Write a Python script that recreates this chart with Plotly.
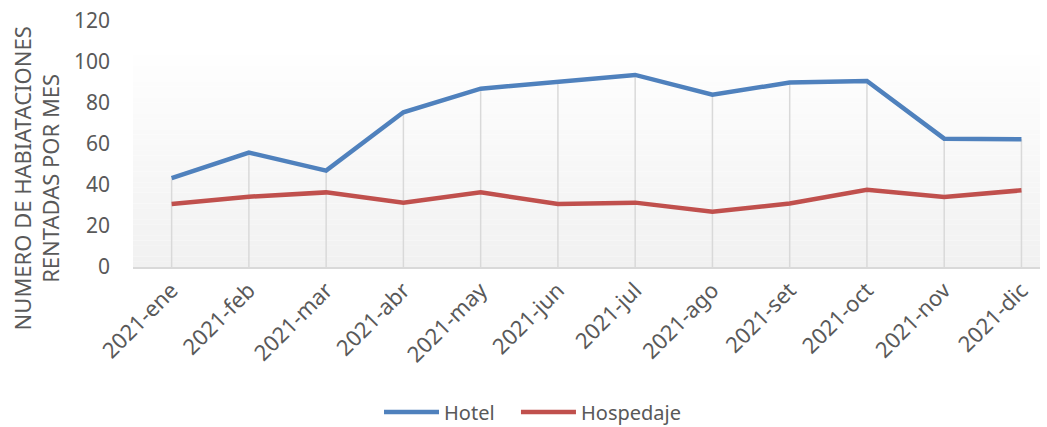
import plotly.graph_objects as go

months = ["2021-ene", "2021-feb", "2021-mar", "2021-abr", "2021-may", "2021-jun",
          "2021-jul", "2021-ago", "2021-set", "2021-oct", "2021-nov", "2021-dic"]
hotel = [43.3, 55.8, 47.0, 75.5, 87.0, 90.5, 93.7, 84.0, 90.0, 90.7, 62.6, 62.3]
hospedaje = [30.7, 34.3, 36.4, 31.4, 36.4, 30.7, 31.4, 27.0, 31.0, 37.7, 34.1, 37.4]
y_ticks = [0, 20, 40, 60, 80, 100, 120]

idx = list(range(len(months)))

fig = go.Figure()

# drop lines from highest series down to axis
dx, dy = [], []
for i, h in zip(idx, hotel):
    dx += [i, i, None]
    dy += [0, h, None]
fig.add_trace(go.Scatter(x=dx, y=dy, mode="lines", line=dict(color="#d9d9d9", width=1.5),
                         showlegend=False, hoverinfo="skip"))

fig.add_trace(go.Scatter(x=idx, y=hotel, mode="lines", name="Hotel",
                         line=dict(color="#4f81bd", width=4.5), legend="legend"))
fig.add_trace(go.Scatter(x=idx, y=hospedaje, mode="lines", name="Hospedaje",
                         line=dict(color="#c0504d", width=4.5), legend="legend2"))

# gradient background bands
shapes = []
top, n = 103.4, 40
for k in range(n):
    y0 = top * k / n
    y1 = top * (k + 1) / n
    t = k / (n - 1)
    v = int(round(241 + (254 - 241) * t))
    shapes.append(dict(type="rect", xref="paper", yref="y", x0=0, x1=1, y0=y0, y1=y1,
                       fillcolor=f"rgb({v},{v},{v})", line=dict(width=0), layer="below"))
fig.update_layout(shapes=shapes)

fig.add_annotation(text="NUMERO DE HABIATACIONES<br>RENTADAS POR MES", textangle=-90,
                   xref="paper", yref="paper", x=-0.107, y=0.36, xanchor="center",
                   yanchor="middle", showarrow=False,
                   font=dict(size=22, color="#595959", family="Noto Sans"))

legend_common = dict(orientation="h", xref="container", xanchor="left",
                     yref="container", y=0.035, yanchor="middle",
                     font=dict(size=20, color="#595959"), itemwidth=55)

fig.update_layout(
    width=1047, height=427,
    margin=dict(l=133, r=7, t=21, b=160, autoexpand=False),
    paper_bgcolor="white", plot_bgcolor="white",
    font=dict(family="Noto Sans", color="#595959"),
    xaxis=dict(range=[-0.5, 11.24], tickmode="array", tickvals=idx, ticktext=months,
               tickangle=-45, tickfont=dict(size=22, color="#595959"),
               showgrid=False, zeroline=False, showline=True, linecolor="#d9d9d9",
               linewidth=1.5, ticks="", automargin=False),
    yaxis=dict(range=[0, 120], tickmode="array", tickvals=y_ticks,
               tickfont=dict(size=21, color="#595959"), showgrid=False, zeroline=False,
               showline=False, ticks="", ticklabelstandoff=22, automargin=False),
    legend=dict(x=0.362, **legend_common),
    legend2=dict(x=0.4928, **legend_common),
)

fig.write_html("out.html", config={"displayModeBar": False},
               post_script="document.body.style.margin='0';")
